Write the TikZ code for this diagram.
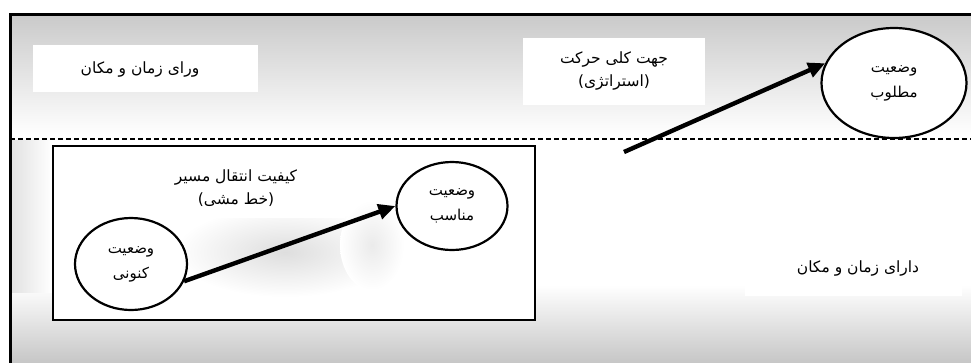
\documentclass[tikz,border=0pt]{standalone}
\usepackage{fontspec}
\TeXXeTstate=1
\newfontfamily\arabicfont[Script=Arabic]{DejaVu Sans}
\usetikzlibrary{shapes.geometric,arrows.meta}
\newcommand{\fa}[1]{{\arabicfont\beginR #1\endR}}
\begin{document}
\begin{tikzpicture}[x=1pt,y=-1pt,
  state/.style={ellipse, draw, line width=2.2pt, fill=white, inner sep=0pt,
    align=center, font=\fontsize{15}{25}\selectfont},
  txt/.style={align=center, font=\fontsize{15.5}{23}\selectfont},
  bigarrow/.style={line width=4.4pt, -{Triangle[length=17pt,width=15pt]}},
  frame/.style={line width=3pt, line cap=rect},
  sep/.style={line width=1.4pt, dash pattern=on 5pt off 3pt}]
\useasboundingbox (0,0) rectangle (971,362);
% backgrounds
\fill[white] (0,0) rectangle (971,362);
\shade[top color=black!21, bottom color=white] (10,14) rectangle (971,135);
\shade[top color=white, bottom color=black!22] (10,285) rectangle (971,362);
\shade[left color=black!12, right color=white] (10,140) rectangle (52,292);
\fill[white] (53,146) rectangle (535,320);
\shade[inner color=black!13, outer color=white] (285,252) ellipse (110 and 45);
\shade[inner color=black!8, outer color=white] (372,245) ellipse (32 and 45);
\fill[white] (745,245) rectangle (962,296);
% text boxes
\fill[white] (33,45) rectangle (258,92);
\fill[white] (523,38) rectangle (705,105);
\fill[white] (150,160) rectangle (345,218);
% frame and separators
\draw[frame] (10,362) -- (10,14) -- (971,14);
\draw[sep] (10,139) -- (971,139);
\draw[line width=1.4pt] (53,146) rectangle (535,320);
% labels
\node[txt] (beyond) at (140,70) {\fa{ورای زمان و مکان}};
\node[txt] (strategy) at (614,71) {\fa{جهت کلی حرکت}\\\fa{(استراتژی)}};
\node[txt] (policy) at (236,188) {\fa{کیفیت انتقال مسیر}\\\fa{(خط مشی)}};
\node[txt] (within) at (858,268) {\fa{دارای زمان و مکان}};
% states
\node[state, minimum width=145pt, minimum height=110pt] (desired) at (894,83) {\fa{وضعیت}\\\fa{مطلوب}};
\node[state, minimum width=111pt, minimum height=88pt] (proper) at (452,206) {\fa{وضعیت}\\\fa{مناسب}};
\node[state, minimum width=112pt, minimum height=92pt] (current) at (131,264) {\fa{وضعیت}\\\fa{کنونی}};
% arrows
\coordinate (start) at (624,152);
\draw[bigarrow] (start) -- (desired.164);
\draw[bigarrow] (current.-18) -- (proper.west);
\end{tikzpicture}
\end{document}
